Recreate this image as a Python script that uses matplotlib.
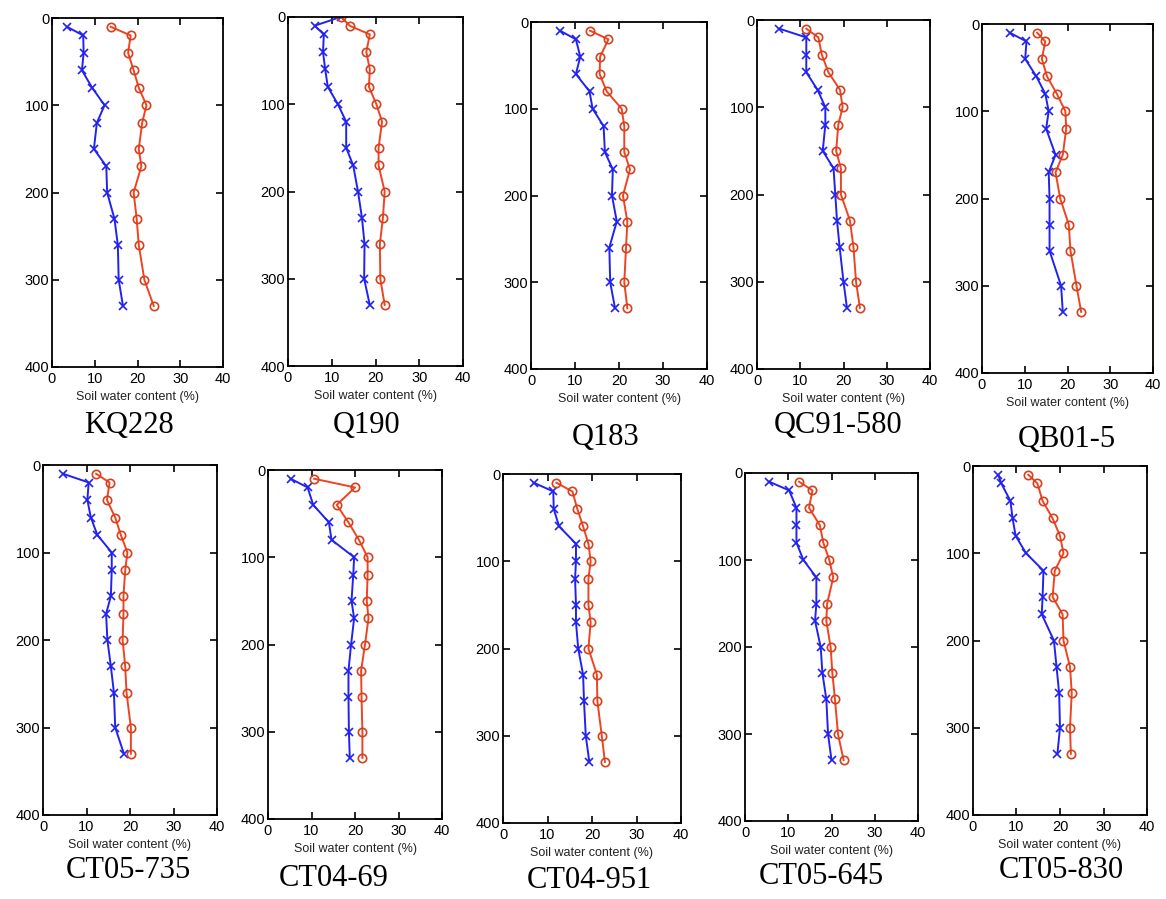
import matplotlib
matplotlib.use("Agg")
import matplotlib.pyplot as plt

depths = [10, 20, 40, 60, 80, 100, 120, 150, 170, 200, 230, 260, 300, 330]
depths_q190 = [0, 10, 20, 40, 60, 80, 100, 120, 150, 170, 200, 230, 260, 300, 330]

names = ["KQ228", "Q190", "Q183", "QC91-580", "QB01-5",
         "CT05-735", "CT04-69", "CT04-951", "CT05-645", "CT05-830"]

blue_kq228 = [3.5, 7.3, 7.4, 7.0, 9.4, 12.3, 10.5, 9.8, 12.7, 12.9, 14.6, 15.4, 15.6, 16.6]
red_kq228 = [13.7, 18.4, 17.8, 19.1, 20.3, 22.1, 21.1, 20.3, 20.9, 19.1, 19.8, 20.3, 21.6, 23.8]

blue_q190 = [12.0, 6.1, 8.2, 8.0, 8.5, 9.1, 11.4, 13.3, 13.3, 14.9, 16.0, 16.9, 17.5, 17.4, 18.7]
red_q190 = [12.2, 14.1, 18.7, 17.9, 18.7, 18.5, 20.2, 21.5, 20.7, 20.7, 22.1, 21.7, 21.0, 21.1, 22.1]

blue_q183 = [6.6, 10.2, 11.2, 10.2, 13.3, 14.0, 16.5, 16.8, 18.6, 18.4, 19.5, 17.8, 18.0, 19.1]
red_q183 = [13.4, 17.6, 15.7, 15.6, 17.2, 20.6, 21.2, 21.2, 22.5, 20.9, 21.9, 21.6, 21.2, 21.9]

blue_qc91 = [5.2, 11.4, 11.4, 11.4, 14.0, 15.8, 15.8, 15.2, 17.7, 18.1, 18.5, 19.1, 20.0, 20.8]
red_qc91 = [11.4, 14.2, 15.0, 16.5, 19.2, 19.8, 18.8, 18.3, 19.4, 19.4, 21.5, 22.3, 22.9, 23.8]

blue_qb01 = [6.5, 10.4, 10.1, 12.7, 14.8, 15.6, 15.0, 17.2, 15.6, 15.8, 15.8, 15.8, 18.5, 18.9]
red_qb01 = [12.9, 14.8, 14.0, 15.2, 17.5, 19.5, 19.7, 18.9, 17.2, 18.3, 20.3, 20.7, 22.1, 23.2]

blue_ct05_735 = [4.6, 10.5, 10.2, 11.0, 12.5, 15.8, 15.8, 15.6, 14.5, 14.8, 15.6, 16.3, 16.6, 18.6]
red_ct05_735 = [12.2, 15.3, 14.7, 16.6, 17.9, 19.4, 18.9, 18.5, 18.5, 18.3, 18.9, 19.2, 20.2, 20.2]

blue_ct04_69 = [5.2, 9.1, 10.4, 14.0, 14.6, 19.8, 19.6, 19.2, 19.8, 19.1, 18.5, 18.5, 18.6, 18.8]
red_ct04_69 = [10.6, 20.0, 15.8, 18.5, 20.9, 22.9, 22.9, 22.7, 23.1, 22.3, 21.4, 21.5, 21.7, 21.7]

blue_ct04_951 = [6.9, 11.3, 11.4, 12.6, 16.4, 16.4, 16.2, 16.4, 16.4, 16.9, 18.0, 18.2, 18.6, 19.4]
red_ct04_951 = [12.0, 15.6, 16.7, 18.0, 19.2, 19.7, 19.2, 19.2, 19.7, 19.2, 21.1, 21.2, 22.2, 22.9]

blue_ct05_645 = [5.6, 10.2, 11.9, 11.9, 11.9, 13.5, 16.5, 16.5, 16.2, 17.5, 17.9, 18.8, 19.2, 20.0]
red_ct05_645 = [12.5, 15.6, 14.8, 17.3, 18.1, 19.5, 20.4, 19.0, 18.8, 19.8, 20.2, 20.8, 21.5, 22.8]

blue_ct05_830 = [5.8, 6.5, 8.6, 9.1, 9.8, 12.2, 16.2, 16.0, 15.8, 18.6, 19.2, 19.8, 20.0, 19.4]
red_ct05_830 = [12.7, 14.8, 16.0, 18.3, 20.0, 20.8, 18.8, 18.3, 20.6, 20.8, 22.3, 22.7, 22.3, 22.5]

x_ticks = [0, 10, 20, 30, 40]
y_ticks = [0, 100, 200, 300, 400]
xlabel = "Soil water content (%)"

series = [
    (depths, blue_kq228, red_kq228),
    (depths_q190, blue_q190, red_q190),
    (depths, blue_q183, red_q183),
    (depths, blue_qc91, red_qc91),
    (depths, blue_qb01, red_qb01),
    (depths, blue_ct05_735, red_ct05_735),
    (depths, blue_ct04_69, red_ct04_69),
    (depths, blue_ct04_951, red_ct04_951),
    (depths, blue_ct05_645, red_ct05_645),
    (depths, blue_ct05_830, red_ct05_830),
]

# axes boxes in pixels: left, right, top, bottom
boxes = [
    (52, 223, 18, 367), (288, 463, 17, 366), (531, 707, 22, 369),
    (757, 930, 20, 369), (982, 1153, 24, 373),
    (43, 217, 465, 815), (268, 442, 470, 819), (503, 681, 474, 823),
    (745, 918, 473, 821), (973, 1147, 466, 815),
]
title_pos = [
    (129, 425), (367, 425), (606, 437), (838, 425), (1067, 439),
    (128, 871), (334, 879), (589, 881), (821, 876), (1061, 871),
]

W, H = 1166, 899
fig = plt.figure(figsize=(W / 100, H / 100), dpi=100)
fig.patch.set_facecolor("white")

blue = "#2222ee"
red = "#ee4422"
red_edge = "#d8401c"

for (d, b, r), (l, rr, t, bt), name, (tx, ty) in zip(series, boxes, names, title_pos):
    ax = fig.add_axes([l / W, 1 - bt / H, (rr - l) / W, (bt - t) / H])
    ax.plot(b, d, color=blue, lw=1.4, marker="x", ms=5.5, mew=1.2)
    ax.plot(r, d, color=red, lw=1.4, marker="o", ms=6, mfc="none",
            mec=red_edge, mew=1.2)
    ax.set_xlim(0, 40)
    ax.set_ylim(400, 0)
    ax.set_xticks(x_ticks)
    ax.set_yticks(y_ticks)
    ax.tick_params(direction="in", top=True, right=True, length=5, width=1.2,
                   labelsize=10.5)
    ax.tick_params(axis="x", pad=3.5)
    ax.tick_params(axis="y", pad=2)
    for lab in ax.get_xticklabels() + ax.get_yticklabels():
        lab.set_fontfamily("Liberation Sans")
    for s in ax.spines.values():
        s.set_linewidth(1.3)
    ax.set_xlabel(xlabel, fontsize=9, family="Liberation Sans", labelpad=4,
                  color="#222222")
    fig.text(tx / W, 1 - ty / H, name, ha="center", va="center",
             fontsize=22, family="Liberation Serif")

fig.savefig("out.png", dpi=100, facecolor="white")
